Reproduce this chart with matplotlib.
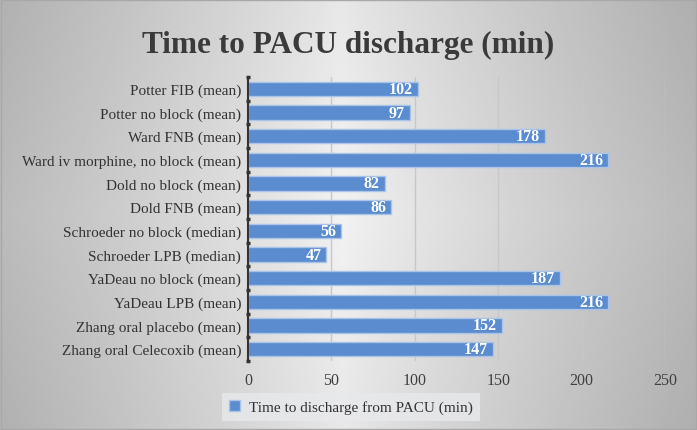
import numpy as np
import matplotlib
matplotlib.use("Agg")
import matplotlib.pyplot as plt

# Data
labels = [
    "Potter FIB (mean)",
    "Potter no block (mean)",
    "Ward FNB (mean)",
    "Ward iv morphine, no block (mean)",
    "Dold no block (mean)",
    "Dold FNB (mean)",
    "Schroeder no block (median)",
    "Schroeder LPB (median)",
    "YaDeau no block (mean)",
    "YaDeau LPB (mean)",
    "Zhang oral placebo (mean)",
    "Zhang oral Celecoxib (mean)",
]
minutes = [102, 97, 178, 216, 82, 86, 56, 47, 187, 216, 152, 147]
xticks = [0, 50, 100, 150, 200, 250]

serif = ["Liberation Serif", "DejaVu Serif"]
bar_color = "#5a8ccf"

fig = plt.figure(figsize=(6.97, 4.31), dpi=100)

# gradient background, light in the middle, grey at the edges
bg = fig.add_axes([0, 0, 1, 1], zorder=-10)
xs = np.linspace(-1, 1, 400)
ys = np.linspace(-1, 1, 250)
X, Y = np.meshgrid(xs, ys)
shade = 0.95 - 0.22 * np.abs(X + 0.02) ** 0.9 - 0.04 * np.abs(Y)
bg.imshow(shade, cmap="gray", vmin=0, vmax=1, aspect="auto",
          extent=[0, 1, 0, 1], interpolation="bilinear")
bg.set_xlim(0, 1)
bg.set_ylim(0, 1)
bg.axis("off")
bg.add_patch(plt.Rectangle((0.002, 0.003), 0.996, 0.994, fill=False,
                           edgecolor="#a8a8a8", linewidth=1))

ax = fig.add_axes([248 / 697, 1 - 362 / 431, 417 / 697, 284 / 431])
ax.patch.set_alpha(0)

pos = np.arange(len(labels))
bars = ax.barh(pos, minutes, height=0.6, color=bar_color,
               edgecolor="#a9c4e8", linewidth=1, zorder=3)

for b, v in zip(bars, minutes):
    ax.text(v - 3, b.get_y() + b.get_height() / 2, str(v),
            ha="right", va="center", color="white", fontsize=11.5,
            fontweight="bold", family=serif, zorder=4)

ax.set_ylim(len(labels) - 0.5, -0.5)
ax.set_xlim(0, 250)
ax.set_xticks(xticks)
ax.set_xticklabels([str(t) for t in xticks], family=serif, fontsize=11.5,
                   color="#404040")
ax.set_yticks(pos)
ax.set_yticklabels(labels, family=serif, fontsize=11, color="#333333")
ax.tick_params(axis="x", length=0, pad=8)
ax.tick_params(axis="y", length=0, pad=5)

# dark dashes on the category axis between bars
ax.set_yticks(np.arange(-0.5, len(labels)), minor=True)
ax.tick_params(axis="y", which="minor", length=3, width=2.5, color="#333333",
               direction="inout")

ax.grid(axis="x", color="#c8c8c8", linewidth=1, zorder=0)
for s in ["top", "right", "bottom"]:
    ax.spines[s].set_visible(False)
ax.spines["left"].set_color("#333333")
ax.spines["left"].set_linewidth(1.5)
ax.spines["left"].set_zorder(5)

fig.text(0.5, 0.895, "Time to PACU discharge (min)", ha="center", va="center",
         fontsize=22.5, fontweight="bold", family=serif, color="#3a3a3a")

leg = ax.legend([bars[0]], ["Time to discharge from PACU (min)"],
                loc="center", bbox_to_anchor=(351 / 697, 1 - 408 / 431),
                bbox_transform=fig.transFigure, frameon=True, fancybox=False,
                prop={"family": serif, "size": 11}, handlelength=0.7,
                handleheight=0.7, borderpad=0.45, handletextpad=0.6)
leg.get_frame().set_facecolor("#e8e9eb")
leg.get_frame().set_edgecolor("none")
leg.get_frame().set_alpha(0.8)
for t in leg.get_texts():
    t.set_color("#333333")

fig.savefig("out.png", dpi=100)
